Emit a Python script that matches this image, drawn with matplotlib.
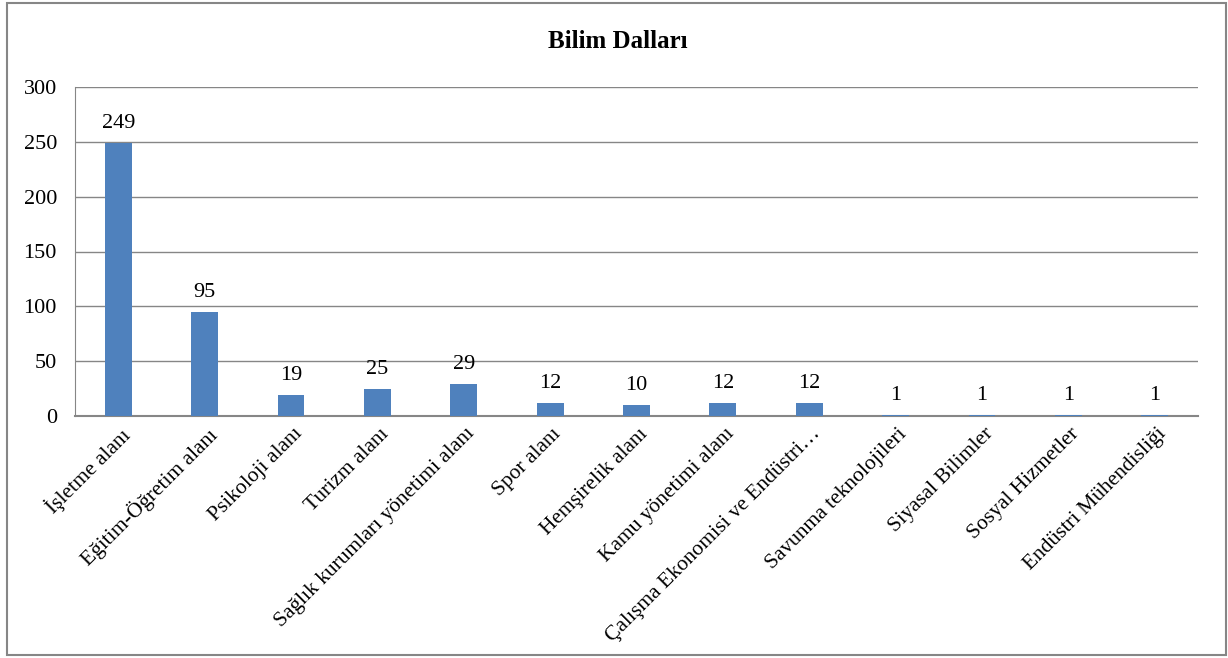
import matplotlib.pyplot as plt
from matplotlib.patches import Rectangle

categories = ["İşletme alanı", "Eğitim-Öğretim alanı", "Psikoloji alanı", "Turizm alanı",
              "Sağlık kurumları yönetimi alanı", "Spor alanı", "Hemşirelik alanı",
              "Kamu yönetimi alanı", "Çalışma Ekonomisi ve Endüstri…",
              "Savunma teknolojileri", "Siyasal Bilimler", "Sosyal Hizmetler",
              "Endüstri Mühendisliği"]
values = [249, 95, 19, 25, 29, 12, 10, 12, 12, 1, 1, 1, 1]
yticks = [0, 50, 100, 150, 200, 250, 300]

plt.rcParams['font.family'] = ['Liberation Serif', 'DejaVu Serif']

fig = plt.figure(figsize=(12.28, 6.58), dpi=100)
ax = fig.add_axes([75 / 1228, 1 - 416 / 658, (1198 - 75) / 1228, (416 - 87) / 658])

x = range(len(categories))
bars = ax.bar(x, values, width=0.31, color='#4F81BD', zorder=3)
for xi, v in zip(x, values):
    ax.text(xi, v + 9, str(v), ha='center', va='bottom', fontsize=16)

ax.set_xlim(-0.5, len(categories) - 0.5)
ax.set_ylim(0, 300)
ax.set_yticks(yticks)
ax.set_yticklabels([str(t) for t in yticks], fontsize=16)
ax.yaxis.grid(True, color='#868686', linewidth=1, zorder=0)
ax.tick_params(axis='y', length=0, pad=13)
ax.tick_params(axis='x', length=0, pad=6)
ax.set_xticks([xi + 0.02 for xi in x])
ax.set_xticklabels(categories, rotation=45, ha='right', rotation_mode='anchor', fontsize=15.5)

for s in ['top', 'right']:
    ax.spines[s].set_visible(False)
ax.spines['left'].set_color('#868686')
ax.spines['bottom'].set_color('#868686')
ax.spines['bottom'].set_linewidth(1.5)

fig.text(618 / 1228, 1 - 42 / 658, "Bilim Dalları", ha='center', va='center',
         fontsize=18, fontweight='bold')

fig.patches.append(Rectangle((7 / 1228, 3 / 658), 1219 / 1228, 652 / 658,
                             transform=fig.transFigure, fill=False,
                             edgecolor='#868686', linewidth=1.5))

fig.savefig('out.png', dpi=100)
